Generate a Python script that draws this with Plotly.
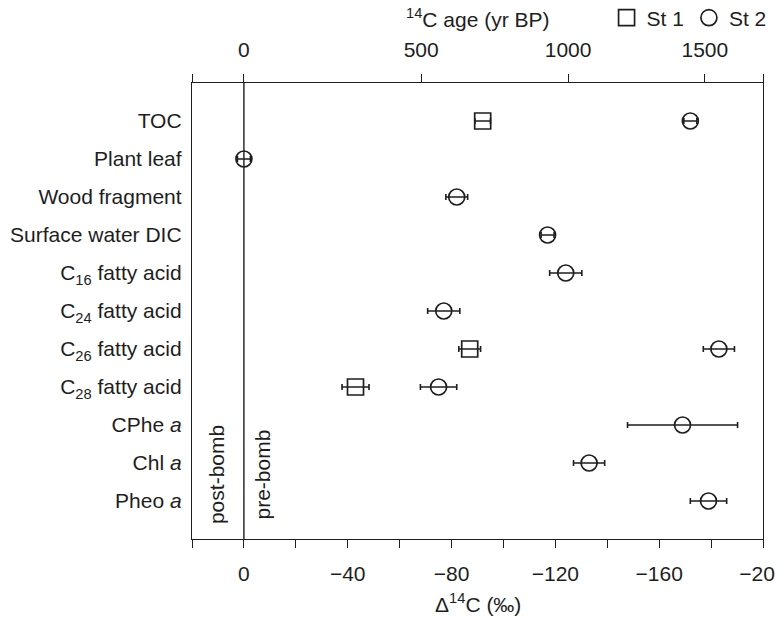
import plotly.graph_objects as go

# ---- data ----
categories = ["TOC", "Plant leaf", "Wood fragment", "Surface water DIC",
              "C<sub>16</sub> fatty acid", "C<sub>24</sub> fatty acid",
              "C<sub>26</sub> fatty acid", "C<sub>28</sub> fatty acid",
              "CPhe <i>a</i>", "Chl <i>a</i>", "Pheo <i>a</i>"]

st1_cats = ["TOC", "C<sub>26</sub> fatty acid", "C<sub>28</sub> fatty acid"]
st1_d14c = [-92, -87, -43]
st1_err = [3, 4.2, 5.2]

st2_cats = ["TOC", "Plant leaf", "Wood fragment", "Surface water DIC",
            "C<sub>16</sub> fatty acid", "C<sub>24</sub> fatty acid",
            "C<sub>26</sub> fatty acid", "C<sub>28</sub> fatty acid",
            "CPhe <i>a</i>", "Chl <i>a</i>", "Pheo <i>a</i>"]
st2_d14c = [-172, 0, -82, -117, -124, -77, -183, -75, -169, -133, -179]
st2_err = [2.5, 2.5, 4.2, 2.5, 6.2, 6.2, 6, 7, 21.2, 6, 7]

bottom_tickvals = [20, 0, -20, -40, -60, -80, -100, -120, -140, -160, -180, -200]
bottom_ticktext = ["", "0", "", "\u221240", "", "\u221280", "", "\u2212120", "",
                   "\u2212160", "", "\u2212200"]

# 14C age ticks placed at their corresponding Δ14C positions
age_tickvals = [20, 0, -68.3, -124.9, -177.6, -200]
age_ticktext = ["", "0", "500", "1000", "1500", ""]

ink = "#1e1e1e"
FONT = "Liberation Sans, Arial, Helvetica, sans-serif"
FS = 21

fig = go.Figure()

fig.add_trace(go.Scatter(
    x=st1_d14c, y=st1_cats, mode="markers", name="St 1",
    marker=dict(symbol="square-open", size=16, color=ink, line=dict(width=1.7, color=ink)),
    error_x=dict(type="data", array=st1_err, visible=True, color=ink, thickness=1.6, width=3),
))
fig.add_trace(go.Scatter(
    x=st2_d14c, y=st2_cats, mode="markers", name="St 2",
    marker=dict(symbol="circle-open", size=16, color=ink, line=dict(width=1.7, color=ink)),
    error_x=dict(type="data", array=st2_err, visible=True, color=ink, thickness=1.6, width=3),
))
# invisible trace so the top (age) axis is realised
fig.add_trace(go.Scatter(x=[0], y=[categories[0]], xaxis="x2", mode="markers",
                         marker=dict(opacity=0), showlegend=False, hoverinfo="skip"))

# zero line (post-bomb / pre-bomb divide)
fig.add_shape(type="line", xref="x", yref="paper", x0=0, x1=0, y0=0, y1=1,
              line=dict(color=ink, width=1.4))

fig.add_annotation(text="post-bomb", xref="x", yref="y", x=10.5, y=9.3,
                   textangle=-90, showarrow=False, font=dict(size=FS, color=ink, family=FONT))
fig.add_annotation(text="pre-bomb", xref="x", yref="y", x=-7, y=9.3,
                   textangle=-90, showarrow=False, font=dict(size=FS, color=ink, family=FONT))

# axis titles
fig.add_annotation(text="<sup>14</sup>C age (yr BP)", xref="paper", yref="paper",
                   x=0.5, y=1.1425, showarrow=False, yanchor="middle",
                   font=dict(size=FS, color=ink, family=FONT))
fig.add_annotation(text="\u0394<sup>14</sup>C (\u2030)", xref="paper", yref="paper",
                   x=0.5, y=-0.14, showarrow=False, yanchor="middle",
                   font=dict(size=FS, color=ink, family=FONT))

# the page body adds an 8 px offset, so the figure is 8 px smaller and margins shifted
fig.update_layout(
    width=775, height=610,
    margin=dict(l=184, r=20, t=75, b=79, autoexpand=False),
    paper_bgcolor="white", plot_bgcolor="white",
    font=dict(family=FONT, size=FS, color=ink),
    showlegend=True,
    legend=dict(orientation="h", x=1.015, xanchor="right", y=1.1425, yanchor="middle",
                font=dict(size=FS, color=ink), bgcolor="rgba(0,0,0,0)",
                itemwidth=30, tracegroupgap=0),
    xaxis=dict(range=[20, -200], tickvals=bottom_tickvals, ticktext=bottom_ticktext,
               ticks="outside", ticklen=8, tickwidth=1.4, tickcolor=ink, automargin=False,
               showline=True, linecolor=ink, linewidth=1.4, showgrid=False, zeroline=False,
               ticklabelstandoff=8, ticklabeloverflow="allow",
               tickfont=dict(size=FS, color=ink)),
    xaxis2=dict(range=[20, -200], overlaying="x", side="top", anchor="y",
                tickvals=age_tickvals, ticktext=age_ticktext, automargin=False,
                ticks="outside", ticklen=8, tickwidth=1.4, tickcolor=ink,
                showline=True, linecolor=ink, linewidth=1.4, showgrid=False, zeroline=False,
                ticklabelstandoff=8, ticklabeloverflow="allow",
                tickfont=dict(size=FS, color=ink)),
    yaxis=dict(type="category", categoryorder="array", categoryarray=categories,
               range=[11, -1], showline=True, mirror=True, linecolor=ink, linewidth=1.4,
               ticks="", showgrid=False, zeroline=False, ticklabelstandoff=5, automargin=False,
               tickfont=dict(size=21, color=ink)),
)

fig.write_html("out.html")
